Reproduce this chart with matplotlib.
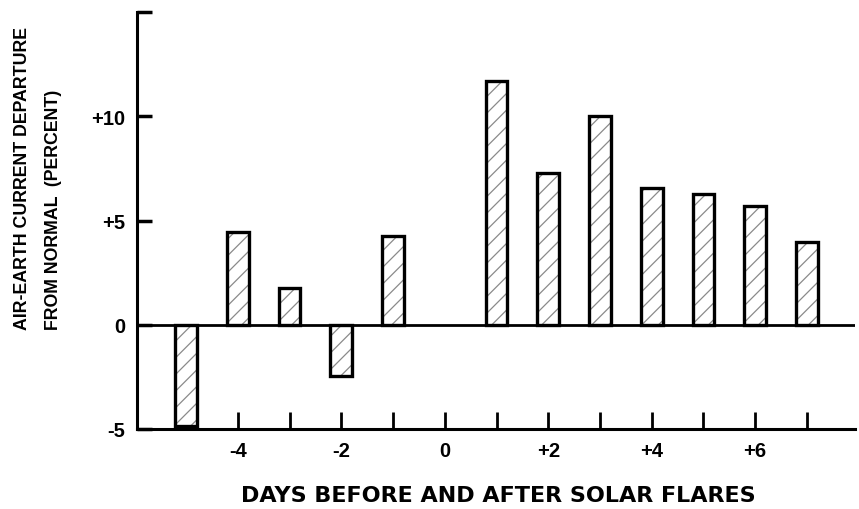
import matplotlib
matplotlib.use("Agg")
import matplotlib.pyplot as plt
from matplotlib import font_manager

days = [-5, -4, -3, -2, -1, 1, 2, 3, 4, 5, 6, 7]
departure = [-4.87, 4.45, 1.78, -2.48, 4.25, 11.7, 7.28, 10.0, 6.56, 6.27, 5.69, 3.96]
xtick_pos = [-5, -4, -3, -2, -1, 0, 1, 2, 3, 4, 5, 6, 7]
xtick_labels = ["", "-4", "", "-2", "", "0", "", "+2", "", "+4", "", "+6", ""]
ytick_pos = [-5, 0, 5, 10, 15]
ytick_labels = ["-5", "0", "+5", "+10", ""]

names = {f.name for f in font_manager.fontManager.ttflist}
narrow = [f for f in ["Liberation Sans Narrow", "Liberation Sans", "DejaVu Sans"] if f in names]
wide = [f for f in ["Liberation Sans", "DejaVu Sans"] if f in names]
plt.rcParams['font.family'] = wide
plt.rcParams['hatch.linewidth'] = 0.9

fig = plt.figure(figsize=(8.59, 5.10), dpi=100)
ax = fig.add_axes([137/859, 1-430/510, (855-137)/859, (430-13)/510])

# hatch layer (gray) then outline layer (black)
ax.bar(days, departure, width=0.42, color='white', edgecolor='#8a8a8a',
       linewidth=0, hatch='//', zorder=3)
ax.bar(days, departure, width=0.42, color='none', edgecolor='black',
       linewidth=2.4, zorder=4)
ax.axhline(0, color='black', lw=2, zorder=5)

ax.set_xlim(-5.95, 7.93)
ax.set_ylim(-5, 15)
for s in ['top', 'right']:
    ax.spines[s].set_visible(False)
for s in ['left', 'bottom']:
    ax.spines[s].set_linewidth(2.2)

ax.set_xticks(xtick_pos)
ax.set_xticklabels(xtick_labels, fontsize=14.5, fontweight='bold')
ax.set_yticks(ytick_pos)
ax.set_yticklabels(ytick_labels, fontsize=14.5, fontweight='bold')
ax.tick_params(axis='x', direction='in', length=12, width=2, pad=9)
ax.tick_params(axis='y', direction='in', length=11, width=2.5, pad=8.5)

fig.text(498/859, 1-496/510, "DAYS BEFORE AND AFTER SOLAR FLARES", fontsize=16,
         fontweight='bold', ha='center', va='center',
         family=['DejaVu Sans'])
fig.text(23/859, 1-330/510, "AIR-EARTH CURRENT DEPARTURE", rotation=90, fontsize=12.8,
         fontweight='bold', ha='center', va='bottom', family=narrow)
fig.text(54/859, 1-330/510, "FROM NORMAL  (PERCENT)", rotation=90, fontsize=12.8,
         fontweight='bold', ha='center', va='bottom', family=narrow)

fig.savefig("out.png", dpi=100)
